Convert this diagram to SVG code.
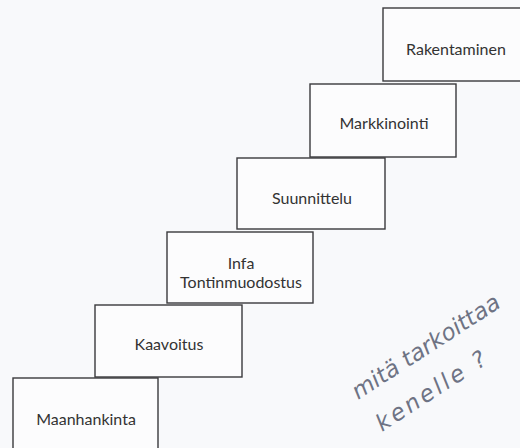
<svg xmlns="http://www.w3.org/2000/svg" width="520" height="448" viewBox="0 0 520 448">
<style>
.box{fill:#fcfcfd;stroke:#3a3a3c;stroke-width:1.4}
.lbl{font-family:Lato,"Open Sans",sans-serif;font-size:16px;fill:#333;text-anchor:middle;dominant-baseline:central}
.hand{font-family:"DejaVu Sans",sans-serif;font-size:23px;fill:#6e7384;font-style:italic;font-weight:200}
</style>
<rect x="0" y="0" width="520" height="448" fill="#f8f9fb"/>
<g id="maanhankinta"><rect class="box" x="13" y="378" width="145" height="90"/><text class="lbl" x="86" y="418">Maanhankinta</text></g>
<g id="kaavoitus"><rect class="box" x="95" y="305" width="147" height="72"/><text class="lbl" x="169" y="343">Kaavoitus</text></g>
<g id="infa"><rect class="box" x="167" y="232" width="146" height="71"/><text class="lbl" x="241" y="262">Infa</text><text class="lbl" x="241" y="281">Tontinmuodostus</text></g>
<g id="suunnittelu"><rect class="box" x="237" y="158" width="148" height="71"/><text class="lbl" x="312" y="197">Suunnittelu</text></g>
<g id="markkinointi"><rect class="box" x="310" y="84" width="146" height="73"/><text class="lbl" x="384" y="122">Markkinointi</text></g>
<g id="rakentaminen"><rect class="box" x="383" y="8" width="150" height="73"/><text class="lbl" x="456" y="48">Rakentaminen</text></g>
<g id="connectors"/>
<g id="note">
<text class="hand" transform="translate(358,400) rotate(-33)">mitä tarkoittaa</text>
<text class="hand" font-size="27" letter-spacing="3" transform="translate(382,432) rotate(-33)">kenelle ?</text>
</g>
</svg>
